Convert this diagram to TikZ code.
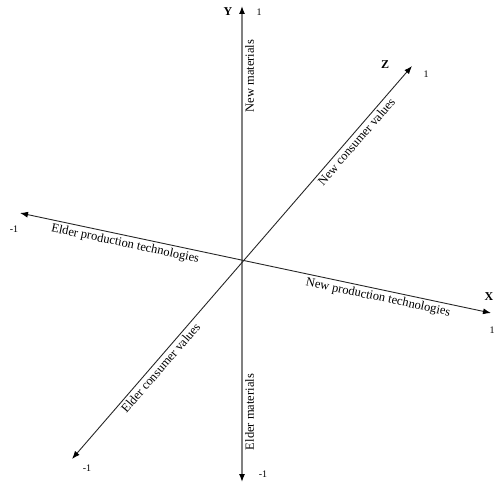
\documentclass[tikz,border=0pt]{standalone}
\usepackage{fontspec}
\setmainfont{Liberation Serif}
\usetikzlibrary{arrows.meta}
\begin{document}
\begin{tikzpicture}[x=1pt,y=-1pt,
  axis/.style={line width=0.9pt,draw=black!85,{Latex[length=8pt,width=6pt,color=black]}-{Latex[length=8pt,width=6pt,color=black]}},
  yaxis/.style={axis,draw=black!50,line width=1.3pt},
  lbl/.style={font=\fontsize{12.5}{14}\selectfont,sloped,below,inner sep=2.5pt},
  axname/.style={font=\fontsize{12}{14}\selectfont\bfseries,inner sep=0pt},
  tick/.style={font=\fontsize{10}{12}\selectfont,inner sep=0pt}]
\useasboundingbox (0,0) rectangle (494,486);
\coordinate (O) at (242,261);
\coordinate (xn) at (20,213);
\coordinate (xp) at (491,313);
\coordinate (yn) at (242,482);
\coordinate (yp) at (242,6);
\coordinate (zn) at (72,459);
\coordinate (zp) at (412,66);
\draw[yaxis] (yn) -- node[lbl,pos=0.147,text=black] (em) {Elder materials}
                     node[lbl,pos=0.853,text=black] (nm) {New materials} (yp);
\draw[axis] (xn) -- node[lbl,pos=0.227] (ept) {Elder production technologies}
                    node[lbl,pos=0.764] (npt) {New production technologies} (xp);
\draw[axis] (zn) -- node[lbl,pos=0.244] (ecv) {Elder consumer values}
                    node[lbl,pos=0.82] (ncv) {New consumer values} (zp);
\node[axname] (Y) at (228,12) {Y};
\node[tick] (y1) at (259,12) {1};
\node[tick] (ym) at (263,474) {-1};
\node[axname] (Z) at (385,65) {Z};
\node[tick] (z1) at (426,74) {1};
\node[tick] (zm) at (87,468) {-1};
\node[axname] (X) at (489,297) {X};
\node[tick] (x1) at (492,330) {1};
\node[tick] (xm) at (14,229) {-1};
\end{tikzpicture}
\end{document}
